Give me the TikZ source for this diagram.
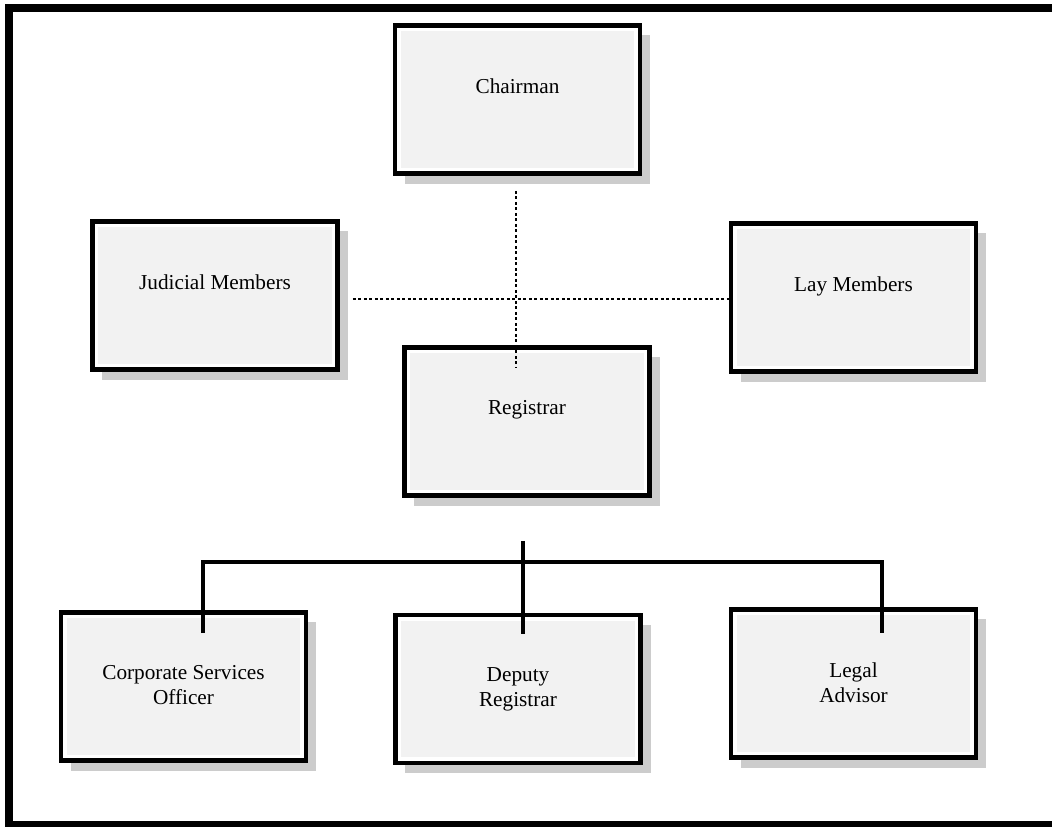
\documentclass[tikz,border=0pt]{standalone}
\usepackage{fontspec}
\setmainfont{Liberation Serif}
\usetikzlibrary{positioning,shadows}

\definecolor{boxgray}{HTML}{F2F2F2}
\definecolor{shadowgray}{HTML}{CCCCCC}

\tikzset{
  unitbox/.style={draw, line width=0.09cm, fill=white, inner sep=0pt,
    minimum width=4.91cm, minimum height=2.97cm,
    drop shadow={shadow xshift=0.2cm, shadow yshift=-0.2cm, fill=shadowgray, opacity=1},
    path picture={\fill[boxgray] ([shift={(0.115cm,0.115cm)}]path picture bounding box.south west)
      rectangle ([shift={(-0.115cm,-0.115cm)}]path picture bounding box.north east);}},
  unittext/.style={inner sep=0pt, outer sep=0pt, align=center,
    font=\fontsize{12.1}{14.2}\selectfont},
  dotline/.style={line width=0.05cm, dash pattern=on 0.06cm off 0.05cm},
  solidline/.style={line width=0.07cm},
}

\begin{document}
\begin{tikzpicture}[x=0.02cm, y=-0.02cm]
        % Frame
        \useasboundingbox (0,0) rectangle (1052,827);
        \clip (0,0) rectangle (1052,827);
        \draw[line width=0.16cm] (9,8) rectangle (1070,825);

        % Chairman and members
        \node[unitbox] at (517.5,99.5) (chairman) {};
        \node[unittext, below=1.11cm of chairman.north] (chairman-t) {Chairman};
        \node[unitbox] at (215,295.5) (judicial) {};
        \node[unittext, below=1.11cm of judicial.north] (judicial-t) {Judicial Members};
        \node[unitbox] at (853.5,297.5) (lay) {};
        \node[unittext, below=1.11cm of lay.north] (lay-t) {Lay Members};

        % Registrar
        \node[unitbox] at (527,421.5) (registrar) {};
        \node[unittext, below=1.11cm of registrar.north] (registrar-t) {Registrar};

        % Staff
        \node[unitbox] at (183.5,686.5) (corporate) {};
        \node[unittext, below=1.11cm of corporate.north] (corporate-t) {Corporate Services\\Officer};
        \node[unitbox] at (518,689) (deputy) {};
        \node[unittext, below=1.11cm of deputy.north] (deputy-t) {Deputy\\Registrar};
        \node[unitbox] at (853.5,683.5) (legal) {};
        \node[unittext, below=1.11cm of legal.north] (legal-t) {Legal\\Advisor};

        % Dotted links
        \draw[dotline] ([xshift=-0.03cm, yshift=-0.3cm]chairman.south) -- ([xshift=-0.03cm, yshift=-0.46cm]chairman.south |- registrar.north);
        \draw[dotline] ([xshift=0.26cm, yshift=-0.07cm]judicial.east) -- ([yshift=-0.07cm]judicial.east -| lay.west);

        % Reporting lines
        \coordinate (hubtop) at (523,541);
        \coordinate (leftdrop) at (203,562);
        \coordinate (rightdrop) at (882,562);
        \draw[solidline] (hubtop) -- ([yshift=-0.42cm]hubtop |- deputy.north);
        \draw[solidline] ([yshift=-0.46cm]leftdrop |- corporate.north) -- (leftdrop) -- (rightdrop) -- ([yshift=-0.52cm]rightdrop |- legal.north);
    \end{tikzpicture}
\end{document}
